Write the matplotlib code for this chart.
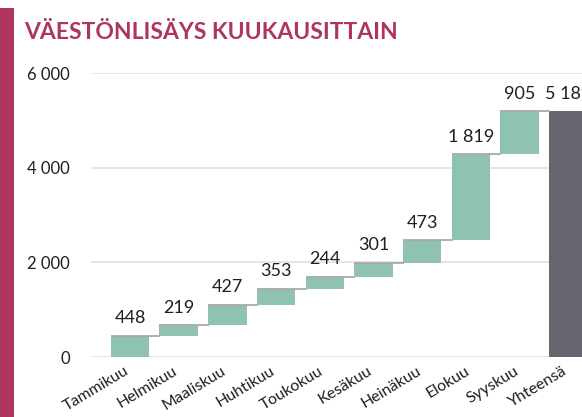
import numpy as np
import matplotlib.pyplot as plt
from matplotlib.patches import Rectangle
import matplotlib.transforms as mtransforms

# ==============================
# DATA
# ==============================

months = ["Tammikuu", "Helmikuu", "Maaliskuu", "Huhtikuu", "Toukokuu",
          "Kesäkuu", "Heinäkuu", "Elokuu", "Syyskuu"]
increase = [448, 219, 427, 353, 244, 301, 473, 1819, 905]
total_label = "Yhteensä"

yticks = [0, 2000, 4000, 6000]

# ==============================
# STYLE
# ==============================

plt.rcParams["font.family"] = ["Lato", "DejaVu Sans"]

teal = "#8fc2b3"
total_color = "#67666f"
crimson = "#ae3560"
link_color = "#a9a9a9"
text_color = "#1f1f1f"


def fmt(v):
    return f"{v:,}".replace(",", " ")


cum = np.cumsum(increase)
starts = np.concatenate([[0], cum[:-1]])
total = cum[-1]

labels = months + [total_label]
x = np.arange(len(labels))
width = 0.79

fig = plt.figure(figsize=(5.82, 4.17), dpi=100)
fig.patch.set_facecolor("white")

# left accent bar
fig.patches.append(Rectangle((0, 0), 14 / 582, 1 - 8 / 417, transform=fig.transFigure,
                             facecolor=crimson, edgecolor="none", zorder=0))

fig.text(24 / 582, 1 - 39 / 417, "VÄESTÖNLISÄYS KUUKAUSITTAIN", color=crimson,
         fontsize=16.5, fontweight="bold", ha="left", va="baseline")

ax = fig.add_axes([91 / 582, 60 / 417, 1 - 91 / 582, (357 - 73) / 417])

ax.bar(x[:-1], increase, bottom=starts, width=width, color=teal, zorder=3)
ax.bar(x[-1], total, width=width, color=total_color, zorder=3)

# connectors
for i in range(len(increase)):
    ax.plot([x[i] - width / 2, x[i + 1] - width / 2 + 0.02], [cum[i], cum[i]],
            color=link_color, lw=1.3, zorder=4, solid_capstyle="butt")

# value labels
for i, v in enumerate(increase):
    ax.annotate(fmt(v), (x[i], cum[i]), xytext=(0, 7), textcoords="offset points",
                ha="center", va="bottom", fontsize=13, color=text_color)
ax.annotate(fmt(total), (x[-1], total), xytext=(0, 7), textcoords="offset points",
            ha="center", va="bottom", fontsize=13, color=text_color)

ax.set_xlim(-0.80, 9.28)
ax.set_ylim(0, 6000)
ax.set_yticks(yticks)
ax.set_yticklabels([fmt(t) for t in yticks])
ax.tick_params(axis="y", length=0, pad=15, labelsize=12, labelcolor=text_color)
ax.grid(axis="y", color="#e3e3e3", lw=1.3, zorder=0)

ax.set_xticks(x)
ax.set_xticklabels(labels, rotation=31, ha="right", rotation_mode="anchor")
ax.tick_params(axis="x", length=0, pad=5, labelsize=11.5, labelcolor=text_color)
offset = mtransforms.ScaledTranslation(-6 / 100, 0, fig.dpi_scale_trans)
for lab in ax.get_xticklabels():
    lab.set_transform(lab.get_transform() + offset)

for s in ax.spines.values():
    s.set_visible(False)

plt.savefig("out.png", dpi=100)
